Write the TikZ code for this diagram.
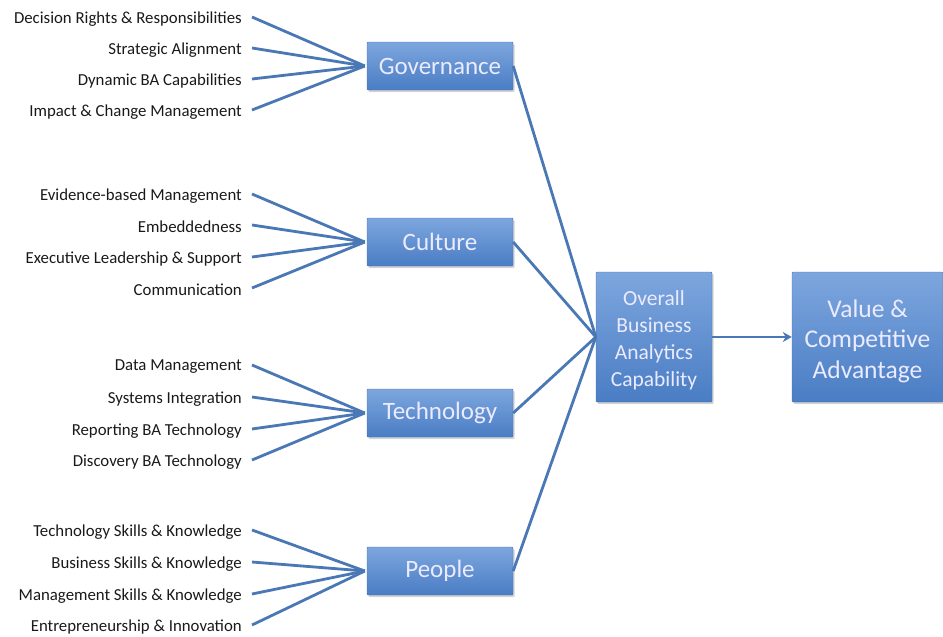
\documentclass[tikz,border=0pt]{standalone}
\usepackage{fontspec}
\setmainfont{Carlito}
\usetikzlibrary{arrows.meta,positioning,shadows}

\definecolor{boxtop}{HTML}{7DA6DE}
\definecolor{boxbot}{HTML}{4A7DC4}
\definecolor{boxline}{HTML}{4473B5}
\definecolor{linkblue}{HTML}{4A78B5}

\begin{document}
\begin{tikzpicture}[
  x=1pt, y=-1pt,
  dim/.style={
    draw=boxline, rectangle, top color=boxtop, bottom color=boxbot,
    minimum width=146pt, minimum height=48pt, rounded corners=1pt,
    text=white!92!blue, font=\fontsize{25}{27}\selectfont,
    drop shadow={shadow xshift=1.5pt, shadow yshift=-2pt, opacity=0.35}
  },
  bigbox/.style={
    dim, align=center, minimum height=130pt
  },
  item/.style={
    anchor=east, inner sep=3pt, font=\fontsize{16.8}{18}\selectfont,
    text=black!90
  },
  edge/.style={linkblue, line width=2.8pt},
  arrow/.style={edge, -{Stealth[length=9pt,width=10pt]}}
]
\useasboundingbox (0,0) rectangle (943,637);

% the four dimensions
\node[dim] (gov)  at (440,66)  {Governance};
\node[dim] (cult) at (440,242) {Culture};
\node[dim] (tech) at (440,413) {Technology};
\node[dim] (ppl)  at (440,571) {People};

% capability and outcome
\node[bigbox, minimum width=116pt, font=\fontsize{21.5}{27}\selectfont] (bac) at (654,337)
  {\rule{0pt}{22pt}Overall\\Business\\Analytics\\Capability};
\node[bigbox, minimum width=151pt, font=\fontsize{25.5}{30.5}\selectfont] (value) at (867.5,337)
  {\rule{0pt}{26pt}Value \&\\Competitive\\Advantage};

% governance items
\node[item] (g1) at (245,19)  {Decision Rights \& Responsibilities};
\node[item] (g2) at (245,50)  {Strategic Alignment};
\node[item] (g3) at (245,81)  {Dynamic BA Capabilities};
\node[item] (g4) at (245,112) {Impact \& Change Management};

% culture items
\node[item] (c1) at (245,196) {Evidence-based Management};
\node[item] (c2) at (245,227) {Embeddedness};
\node[item] (c3) at (245,259) {Executive Leadership \& Support};
\node[item] (c4) at (245,290) {Communication};

% technology items
\node[item] (t1) at (245,367) {Data Management};
\node[item] (t2) at (245,399) {Systems Integration};
\node[item] (t3) at (245,431) {Reporting BA Technology};
\node[item] (t4) at (245,462) {Discovery BA Technology};

% people items
\node[item] (p1) at (245,532) {Technology Skills \& Knowledge};
\node[item] (p2) at (245,564) {Business Skills \& Knowledge};
\node[item] (p3) at (245,596) {Management Skills \& Knowledge};
\node[item] (p4) at (245,627) {Entrepreneurship \& Innovation};

% fan-in to each dimension
\foreach \d/\k in {gov/g, cult/c, tech/t, ppl/p}
  \foreach \i in {1,...,4}
    \draw[edge] ([xshift=7pt,yshift=2pt]\k\i.east) -- ([xshift=-2pt]\d.west);

% dimensions into the overall capability
\foreach \d in {gov, cult, tech, ppl}
  \draw[edge] (\d.east) -- (bac.west);

\draw[arrow] (bac.east) -- (value.west);

\end{tikzpicture}
\end{document}
